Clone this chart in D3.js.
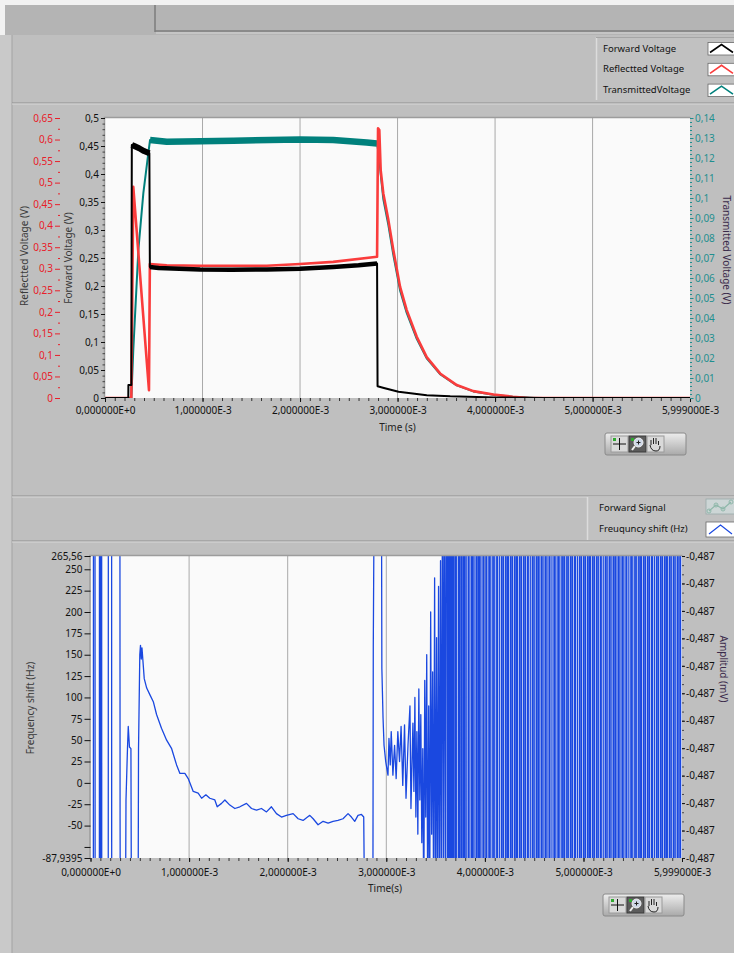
<!DOCTYPE html>
<html>
<head>
<meta charset="utf-8">
<script src="https://cdn.jsdelivr.net/npm/d3@7"></script>
<style>
  body { margin: 0; background: #bfbfbf; }
  svg { display: block; font-family: "Noto Sans", sans-serif; }
</style>
</head>
<body>
<svg id="panel" width="734" height="953"></svg>
<script>
// ---------- data ----------
// time in ms
const timeTicks = [0, 1, 2, 3, 4, 5, 5.999];
const timeTickLabels = ["0,000000E+0", "1,000000E-3", "2,000000E-3", "3,000000E-3",
  "4,000000E-3", "5,000000E-3", "5,999000E-3"];

// [time ms, volts]
const forwardVoltage = [
  [0, 0], [0.239, 0], [0.24, 0.023], [0.27, 0.023], [0.275, 0.452], [0.3, 0.45],
  [0.35, 0.446], [0.4, 0.441], [0.455, 0.437], [0.46, 0.234], [0.55, 0.232],
  [0.975, 0.2295], [1.3, 0.229], [1.66, 0.2295], [2.0, 0.231], [2.34, 0.234],
  [2.6, 0.237], [2.79, 0.240], [2.795, 0.021], [2.86, 0.018], [3.01, 0.011],
  [3.3, 0.005], [3.54, 0.003], [4.0, 0.001], [4.5, 0], [5.999, 0]
];
const reflectedVoltage = [
  [0, 0], [0.27, 0], [0.29, 0.49], [0.451, 0.018], [0.46, 0.311], [0.633, 0.308],
  [0.975, 0.307], [1.66, 0.307], [2.0, 0.311], [2.34, 0.316], [2.79, 0.328],
  [2.80, 0.626], [2.813, 0.622], [2.827, 0.529], [2.854, 0.475], [2.906, 0.413],
  [2.957, 0.343], [3.026, 0.258], [3.094, 0.204], [3.197, 0.142], [3.299, 0.095],
  [3.436, 0.057], [3.607, 0.030], [3.777, 0.016], [3.983, 0.008], [4.18, 0.003],
  [4.35, 0], [5.999, 0]
];
const transmittedVoltage = [
  [0, 0], [0.27, 0], [0.29, 0.0239], [0.342, 0.0739], [0.393, 0.1023], [0.444, 0.1223],
  [0.462, 0.129], [0.633, 0.1281], [1.316, 0.1286], [2.0, 0.1293], [2.34, 0.129],
  [2.684, 0.1278], [2.79, 0.1273], [2.81, 0.121], [2.827, 0.112], [2.854, 0.0995],
  [2.906, 0.0865], [2.957, 0.0715], [3.026, 0.0538], [3.094, 0.0425], [3.197, 0.0296],
  [3.299, 0.0198], [3.436, 0.0119], [3.607, 0.0063], [3.777, 0.0033], [3.983, 0.0016],
  [4.18, 0.0006], [4.4, 0], [5.999, 0]
];

const fwdTicks = [0, 0.05, 0.1, 0.15, 0.2, 0.25, 0.3, 0.35, 0.4, 0.45, 0.5];
const refTicks = [0, 0.05, 0.1, 0.15, 0.2, 0.25, 0.3, 0.35, 0.4, 0.45, 0.5, 0.55, 0.6, 0.65];
const trnTicks = [0, 0.01, 0.02, 0.03, 0.04, 0.05, 0.06, 0.07, 0.08, 0.09, 0.1, 0.11, 0.12, 0.13, 0.14];

// frequency shift (Hz); null breaks the trace
const freqShift = [
  [0, -150], [0.029, -150], [0.030, 400], [0.045, 400], [0.046, 230], [0.047, -150],
  [0.090, -150], [0.091, 400], [0.100, 400], [0.101, -150], [0.106, -150], [0.107, 196],
  [0.108, 400], [0.113, 400], [0.114, -150], [0.180, -150], [0.181, 400], [0.214, 400],
  [0.215, -150], [0.25, null], [0.298, 400], [0.300, -43], [0.302, -150],
  [0.33, null], [0.355, -150], [0.36, -20], [0.375, 40], [0.383, 66], [0.39, 52],
  [0.395, 42], [0.41, 40], [0.415, -150], [0.45, null], [0.483, -150], [0.487, 40],
  [0.50, 150], [0.507, 161], [0.515, 145], [0.522, 158], [0.545, 122], [0.57, 111],
  [0.603, 103], [0.637, 95], [0.67, 80], [0.72, 64], [0.772, 50], [0.823, 40],
  [0.873, 21], [0.907, 11], [0.957, 11], [0.991, 5], [1.042, -10], [1.092, -12],
  [1.127, -18], [1.17, -14], [1.21, -18], [1.261, -20], [1.285, -28], [1.329, -24],
  [1.363, -20], [1.413, -26], [1.464, -30], [1.515, -28], [1.582, -24], [1.633, -30],
  [1.684, -32], [1.734, -30], [1.785, -34], [1.835, -28], [1.886, -36], [1.937, -40],
  [1.987, -38], [2.055, -36], [2.106, -42], [2.156, -44], [2.224, -38], [2.258, -42],
  [2.308, -49], [2.359, -45], [2.41, -47], [2.46, -45], [2.51, -44], [2.561, -42],
  [2.612, -36], [2.646, -40], [2.68, -45], [2.713, -38], [2.748, -37], [2.771, -40],
  [2.78, -150], [2.82, null], [2.864, -150], [2.868, 161], [2.88, 400], [2.89, 400],
  [2.92, null], [2.95, 400], [2.955, 134], [2.967, 76], [2.977, 44], [2.994, 25],
  [3.017, 9], [3.027, 52], [3.04, 21], [3.05, 60], [3.067, 9], [3.084, 44], [3.1, 5],
  [3.117, 60], [3.134, 25], [3.15, 66], [3.167, -3], [3.185, 68], [3.2, -18],
  [3.22, 44], [3.24, 90], [3.25, -30], [3.27, 70], [3.28, -10], [3.29, 100],
  [3.30, -40], [3.31, 60], [3.32, -60], [3.33, 110], [3.34, -20], [3.35, 80],
  [3.36, -70], [3.37, 40], [3.38, -150], [3.39, 120], [3.40, -40], [3.41, 150],
  [3.42, -150], [3.43, 90], [3.44, -150], [3.45, 200], [3.46, -60], [3.47, 130],
  [3.48, -150], [3.49, 240], [3.50, -150], [3.51, 170], [3.52, -150], [3.53, 230],
  [3.54, -150], [3.55, 260], [3.56, -150], [3.57, 400], [3.58, -100], [3.59, 400],
  [3.60, -150], [3.61, 400]
];
// times (ms) of full-height swings in the noisy tail
const freqSpikes = [
  3.62, 3.625, 3.63, 3.64, 3.645, 3.655, 3.66, 3.67, 3.68, 3.685, 3.70, 3.705, 3.71,
  3.73, 3.735, 3.745, 3.76, 3.765, 3.78, 3.79, 3.795, 3.81, 3.83, 3.835, 3.84, 3.86,
  3.87, 3.875, 3.89, 3.91, 3.915, 3.93, 3.94, 3.945, 3.96, 3.98, 3.985, 3.99, 4.01,
  4.02, 4.04, 4.045, 4.06, 4.08, 4.085, 4.10, 4.12, 4.125, 4.13, 4.15, 4.17, 4.175,
  4.19, 4.21, 4.215, 4.23, 4.24, 4.26, 4.265, 4.28, 4.30, 4.305, 4.32, 4.33, 4.35,
  4.355, 4.37, 4.39, 4.395, 4.41, 4.43, 4.435, 4.44, 4.46, 4.48, 4.485, 4.50, 4.52,
  4.525, 4.54, 4.55, 4.57, 4.575, 4.59, 4.61, 4.615, 4.63, 4.65, 4.655, 4.66, 4.68,
  4.70, 4.705, 4.72, 4.74, 4.745, 4.76, 4.78, 4.785, 4.80, 4.81, 4.83, 4.835, 4.85,
  4.87, 4.875, 4.89, 4.91, 4.915, 4.92, 4.94, 4.96, 4.965, 4.98, 5.00, 5.005, 5.02,
  5.04, 5.045, 5.06, 5.07, 5.09, 5.095, 5.11, 5.13, 5.135, 5.15, 5.17, 5.175, 5.18,
  5.20, 5.22, 5.225, 5.24, 5.26, 5.265, 5.28, 5.30, 5.305, 5.32, 5.33, 5.35, 5.355,
  5.37, 5.39, 5.395, 5.41, 5.43, 5.435, 5.44, 5.46, 5.48, 5.485, 5.50, 5.52, 5.525,
  5.54, 5.56, 5.565, 5.58, 5.59, 5.61, 5.615, 5.63, 5.65, 5.655, 5.67, 5.69, 5.695,
  5.70, 5.72, 5.74, 5.745, 5.76, 5.78, 5.785, 5.80, 5.82, 5.825, 5.84, 5.85, 5.87,
  5.875, 5.89, 5.91, 5.915, 5.93, 5.95, 5.955, 5.97, 5.985
];
const freqTicks = [250, 225, 200, 175, 150, 125, 100, 75, 50, 25, 0, -25, -50];
const freqMinor = [-75];
const freqRange = [-87.9395, 265.56];
const freqRangeLabels = ["-87,9395", "265,56"];
const ampLabels = ["-0,487", "-0,487", "-0,487", "-0,487", "-0,487", "-0,487",
  "-0,487", "-0,487", "-0,487", "-0,487", "-0,487", "-0,487"];

const topLegend = ["Forward Voltage", "Reflectted Voltage", "TransmittedVoltage"];
const bottomLegend = ["Forward Signal", "Freuquncy shift (Hz)"];

// ---------- setup ----------
const svg = d3.select("#panel");
const fmt = d3.formatLocale({ decimal: ",", thousands: ".", grouping: [3], currency: ["", ""], minus: "-" }).format(".2~f");

const cBlack = "#000000", cRed = "#fa3c3c", cTeal = "#00807c", cBlue = "#1a48e0";
const cRedText = "#e8202a", cTealText = "#1f8f8f";
const tickFont = 10;

// panel background & chrome
svg.append("rect").attr("width", 734).attr("height", 953).attr("fill", "#bfbfbf");
svg.append("rect").attr("width", 734).attr("height", 35).attr("fill", "#b4b4b4");
svg.append("rect").attr("width", 734).attr("height", 5).attr("fill", "#f2f2f2");
svg.append("rect").attr("width", 5).attr("height", 35).attr("fill", "#f2f2f2");
svg.append("line").attr("x1", 155).attr("x2", 155).attr("y1", 5).attr("y2", 32).attr("stroke", "#7c7c7c").attr("stroke-width", 1.5);
svg.append("line").attr("x1", 155).attr("x2", 734).attr("y1", 31).attr("y2", 31).attr("stroke", "#7c7c7c").attr("stroke-width", 1.5);
svg.append("line").attr("x1", 156).attr("x2", 734).attr("y1", 33).attr("y2", 33).attr("stroke", "#d6d6d6");
svg.append("rect").attr("x", 0).attr("y", 35).attr("width", 12).attr("height", 918).attr("fill", "#c9c9c9");
svg.append("line").attr("x1", 12).attr("x2", 12).attr("y1", 35).attr("y2", 953).attr("stroke", "#a3a3a3");
[103, 496, 541].forEach(y => {
  svg.append("line").attr("x1", 12).attr("x2", 734).attr("y1", y).attr("y2", y).attr("stroke", "#8e8e8e");
  svg.append("line").attr("x1", 12).attr("x2", 734).attr("y1", y + 1).attr("y2", y + 1).attr("stroke", "#d8d8d8");
});

function styleAxis(g, color) {
  g.attr("font-family", null).attr("font-size", tickFont);
  g.select(".domain").remove();
  g.selectAll("line").attr("stroke", color);
  g.selectAll("text").attr("fill", color);
}

function rotTitle(x, y, text, angle, color) {
  svg.append("text").attr("transform", `translate(${x},${y}) rotate(${angle})`)
    .attr("text-anchor", "middle").attr("dominant-baseline", "central")
    .attr("font-size", 10).attr("fill", color).text(text);
}

function palette(x, y) {
  const g = svg.append("g").attr("transform", `translate(${x},${y})`);
  const grad = "pal" + y;
  const lg = svg.append("defs").append("linearGradient").attr("id", grad).attr("x1", 0).attr("x2", 0).attr("y1", 0).attr("y2", 1);
  lg.append("stop").attr("offset", "0%").attr("stop-color", "#ededed");
  lg.append("stop").attr("offset", "100%").attr("stop-color", "#a9a9a9");
  g.append("rect").attr("width", 81).attr("height", 22).attr("rx", 2).attr("fill", `url(#${grad})`).attr("stroke", "#8a8a8a");
  // cursor tool
  g.append("rect").attr("x", 6).attr("y", 3).attr("width", 17).attr("height", 16).attr("fill", "#d9d9d9").attr("stroke", "#9a9a9a");
  g.append("line").attr("x1", 14.5).attr("x2", 14.5).attr("y1", 5).attr("y2", 17).attr("stroke", "#111");
  g.append("line").attr("x1", 8).attr("x2", 21).attr("y1", 11).attr("y2", 11).attr("stroke", "#111");
  g.append("rect").attr("x", 8).attr("y", 5).attr("width", 3).attr("height", 3).attr("fill", "#2faa2f");
  // zoom tool (pressed)
  g.append("rect").attr("x", 24).attr("y", 3).attr("width", 17).attr("height", 16).attr("fill", "#5c5c5c").attr("stroke", "#3a3a3a");
  g.append("circle").attr("cx", 33.5).attr("cy", 9.5).attr("r", 4.5).attr("fill", "#cfd8e8").attr("stroke", "#f0f0f0");
  g.append("line").attr("x1", 30).attr("x2", 27).attr("y1", 13).attr("y2", 17).attr("stroke", "#f0f0f0").attr("stroke-width", 2);
  g.append("path").attr("d", "M31.5,9.5h4M33.5,7.5v4").attr("stroke", "#222");
  g.append("rect").attr("x", 26).attr("y", 5).attr("width", 3).attr("height", 3).attr("fill", "#2faa2f");
  // pan tool
  g.append("rect").attr("x", 42).attr("y", 3).attr("width", 17).attr("height", 16).attr("fill", "#d9d9d9").attr("stroke", "#9a9a9a");
  g.append("path").attr("d", "M46,12 v-5 M48.5,11 v-6 M51,11 v-6 M53.5,12 v-4 M45,12 q1,6 6,6 q4,0 4,-5")
    .attr("fill", "none").attr("stroke", "#222").attr("stroke-width", 1);
}

// ---------- top graph ----------
const T = { left: 105, right: 690, top: 118, bottom: 398 };
const xTop = d3.scaleLinear().domain([0, 5.999]).range([T.left, T.right]);
const yFwd = d3.scaleLinear().domain([0, 0.5]).range([T.bottom, T.top]);
const yRef = d3.scaleLinear().domain([0, 0.65]).range([T.bottom, T.top]);
const yTrn = d3.scaleLinear().domain([0, 0.14]).range([T.bottom, T.top]);

svg.append("rect").attr("x", T.left).attr("y", T.top).attr("width", T.right - T.left).attr("height", T.bottom - T.top)
  .attr("fill", "#fafafa");
svg.append("clipPath").attr("id", "clipTop").append("rect")
  .attr("x", T.left).attr("y", T.top).attr("width", T.right - T.left).attr("height", T.bottom - T.top);

// vertical grid
svg.append("g").selectAll("line").data(timeTicks.slice(1, 6)).enter().append("line")
  .attr("x1", d => xTop(d)).attr("x2", d => xTop(d)).attr("y1", T.top).attr("y2", T.bottom)
  .attr("stroke", "#a9a9a9");

const lineTop = y => d3.line().x(d => xTop(d[0])).y(d => y(d[1]));
const between = (data, a, b) => data.filter(d => d[0] >= a && d[0] <= b);
const plotsTop = svg.append("g").attr("clip-path", "url(#clipTop)");

plotsTop.append("path").attr("d", lineTop(yTrn)(transmittedVoltage)).attr("fill", "none")
  .attr("stroke", cTeal).attr("stroke-width", 2).attr("stroke-linejoin", "round");
plotsTop.append("path").attr("d", lineTop(yTrn)(between(transmittedVoltage, 0.46, 2.79))).attr("fill", "none")
  .attr("stroke", cTeal).attr("stroke-width", 6.5).attr("stroke-linejoin", "round");
plotsTop.append("path").attr("d", lineTop(yRef)(reflectedVoltage)).attr("fill", "none")
  .attr("stroke", cRed).attr("stroke-width", 2.6).attr("stroke-linejoin", "round");
plotsTop.append("path").attr("d", lineTop(yFwd)(forwardVoltage)).attr("fill", "none")
  .attr("stroke", cBlack).attr("stroke-width", 2).attr("stroke-linejoin", "round");
plotsTop.append("path").attr("d", lineTop(yFwd)(between(forwardVoltage, 0.275, 0.455))).attr("fill", "none")
  .attr("stroke", cBlack).attr("stroke-width", 6).attr("stroke-linejoin", "round");
plotsTop.append("path").attr("d", lineTop(yFwd)(between(forwardVoltage, 0.46, 2.79))).attr("fill", "none")
  .attr("stroke", cBlack).attr("stroke-width", 4.5).attr("stroke-linejoin", "round");

svg.append("path").attr("d", `M${T.left - 0.5},${T.bottom}V${T.top - 0.5}H${T.right + 0.5}`)
  .attr("fill", "none").attr("stroke", "#9c9c9c").attr("stroke-width", 1.5);

// x axis
const gxTop = svg.append("g").attr("transform", `translate(0,${T.bottom})`)
  .call(d3.axisBottom(xTop).tickValues(d3.range(0, 6, 0.1)).tickSize(3).tickFormat(""));
styleAxis(gxTop, "#333");
const gxTop2 = svg.append("g").attr("transform", `translate(0,${T.bottom})`)
  .call(d3.axisBottom(xTop).tickValues(timeTicks).tickSize(4).tickPadding(5).tickFormat((d, i) => timeTickLabels[i]));
styleAxis(gxTop2, "#111");

// forward voltage axis
const gFwdMin = svg.append("g").attr("transform", `translate(${T.left},0)`)
  .call(d3.axisLeft(yFwd).tickValues(d3.range(0, 0.501, 0.01)).tickSize(2.5).tickFormat(""));
styleAxis(gFwdMin, "#444");
const gFwd = svg.append("g").attr("transform", `translate(${T.left},0)`)
  .call(d3.axisLeft(yFwd).tickValues(fwdTicks).tickSize(4).tickPadding(2).tickFormat(fmt));
styleAxis(gFwd, "#111");

// reflected voltage axis
const gRefMin = svg.append("g").attr("transform", "translate(60,0)")
  .call(d3.axisLeft(yRef).tickValues(d3.range(0.025, 0.65, 0.05)).tickSize(2).tickFormat(""));
styleAxis(gRefMin, cRedText);
const gRef = svg.append("g").attr("transform", "translate(60,0)")
  .call(d3.axisLeft(yRef).tickValues(refTicks).tickSize(5).tickPadding(2).tickFormat(fmt));
styleAxis(gRef, cRedText);

// transmitted voltage axis
const gTrnMin = svg.append("g").attr("transform", `translate(${T.right},0)`)
  .call(d3.axisRight(yTrn).tickValues(d3.range(0, 0.1401, 0.002)).tickSize(2).tickFormat(""));
styleAxis(gTrnMin, cTealText);
const gTrn = svg.append("g").attr("transform", `translate(${T.right},0)`)
  .call(d3.axisRight(yTrn).tickValues(trnTicks).tickSize(3.5).tickPadding(1.5).tickFormat(fmt));
styleAxis(gTrn, cTealText);

rotTitle(24, 256, "Reflectted Voltage (V)", -90, "#3a3a3a");
rotTitle(68, 258, "Forward Voltage (V)", -90, "#3a3a3a");
rotTitle(727, 250, "Transmitted Voltage (V)", 90, "#3a2a4a");
svg.append("text").attr("x", (T.left + T.right) / 2).attr("y", 427).attr("text-anchor", "middle")
  .attr("dominant-baseline", "central").attr("font-size", 10).attr("fill", "#222").text("Time (s)");
palette(605, 433);

// top legend
const legT = svg.append("g");
legT.append("rect").attr("x", 596).attr("y", 37).attr("width", 140).attr("height", 63).attr("fill", "#c1c1c1");
legT.append("line").attr("x1", 596.5).attr("x2", 596.5).attr("y1", 37).attr("y2", 100).attr("stroke", "#dcdcdc").attr("stroke-width", 1.5);
legT.append("line").attr("x1", 596).attr("x2", 734).attr("y1", 37.5).attr("y2", 37.5).attr("stroke", "#a5a5a5");
const topColors = [cBlack, cRed, cTeal];
topLegend.forEach((name, i) => {
  const cy = 48 + i * 20.8;
  legT.append("text").attr("x", 603).attr("y", cy).attr("dominant-baseline", "central")
    .attr("font-size", 9.5).attr("fill", "#111").text(name);
  legT.append("rect").attr("x", 708).attr("y", cy - 5.5).attr("width", 30).attr("height", 12.5)
    .attr("fill", "#ffffff").attr("stroke", "#6a6a6a").attr("stroke-width", 0.8);
  legT.append("path").attr("d", `M710,${cy + 4.5}L721.5,${cy - 3.5}L733,${cy + 4.5}`)
    .attr("fill", "none").attr("stroke", topColors[i]).attr("stroke-width", 1.6);
});

// ---------- bottom graph ----------
const B = { left: 90.5, right: 682, top: 556, bottom: 858 };
const xBot = d3.scaleLinear().domain([0, 5.999]).range([B.left, B.right]);
const yFreq = d3.scaleLinear().domain(freqRange).range([B.bottom, B.top]);
const yAmp = d3.scaleLinear().domain([0, ampLabels.length - 1]).range([B.bottom, B.top]);

svg.append("rect").attr("x", B.left).attr("y", B.top).attr("width", B.right - B.left).attr("height", B.bottom - B.top)
  .attr("fill", "#fafafa");
svg.append("clipPath").attr("id", "clipBot").append("rect")
  .attr("x", B.left).attr("y", B.top).attr("width", B.right - B.left).attr("height", B.bottom - B.top);

svg.append("g").selectAll("line").data(timeTicks.slice(1, 6)).enter().append("line")
  .attr("x1", d => xBot(d)).attr("x2", d => xBot(d)).attr("y1", B.top).attr("y2", B.bottom)
  .attr("stroke", "#a9a9a9");

// spikes become vertical swings between values beyond the axis range
const spikePts = [];
freqSpikes.forEach((t, i) => {
  const pair = i % 2 === 0 ? [400, -150] : [-150, 400];
  spikePts.push([t, pair[0]], [t, pair[1]]);
});
const freqLine = d3.line().defined(d => d[1] !== null).x(d => xBot(d[0])).y(d => yFreq(d[1]));
svg.append("g").attr("clip-path", "url(#clipBot)").append("path")
  .attr("d", freqLine(freqShift.concat(spikePts)))
  .attr("fill", "none").attr("stroke", cBlue).attr("stroke-width", 1.3).attr("stroke-linejoin", "round");

svg.append("path").attr("d", `M${B.left - 0.5},${B.bottom}V${B.top - 0.5}H${B.right + 0.5}`)
  .attr("fill", "none").attr("stroke", "#9c9c9c").attr("stroke-width", 1.5);

const gxBot = svg.append("g").attr("transform", `translate(0,${B.bottom})`)
  .call(d3.axisBottom(xBot).tickValues(d3.range(0, 6, 0.1)).tickSize(3).tickFormat(""));
styleAxis(gxBot, "#333");
const gxBot2 = svg.append("g").attr("transform", `translate(0,${B.bottom})`)
  .call(d3.axisBottom(xBot).tickValues(timeTicks).tickSize(4).tickPadding(7).tickFormat((d, i) => timeTickLabels[i]));
styleAxis(gxBot2, "#111");

const gFreq = svg.append("g").attr("transform", `translate(${B.left},0)`)
  .call(d3.axisLeft(yFreq).tickValues(freqTicks.concat(freqMinor)).tickSize(6).tickPadding(2)
    .tickFormat(d => freqMinor.includes(d) ? "" : fmt(d)));
styleAxis(gFreq, "#111");
const gFreqEnds = svg.append("g").attr("transform", `translate(${B.left},0)`)
  .call(d3.axisLeft(yFreq).tickValues(freqRange).tickSize(6).tickPadding(2)
    .tickFormat((d, i) => freqRangeLabels[i]));
styleAxis(gFreqEnds, "#111");

const gAmpMin = svg.append("g").attr("transform", `translate(${B.right},0)`)
  .call(d3.axisRight(yAmp).tickValues(d3.range(0, ampLabels.length - 0.99, 1 / 3)).tickSize(2).tickFormat(""));
styleAxis(gAmpMin, "#444");
const gAmp = svg.append("g").attr("transform", `translate(${B.right},0)`)
  .call(d3.axisRight(yAmp).tickValues(d3.range(ampLabels.length)).tickSize(3).tickPadding(1)
    .tickFormat((d, i) => ampLabels[ampLabels.length - 1 - i]));
styleAxis(gAmp, "#111");

rotTitle(30, 708, "Frequency shift (Hz)", -90, "#3a3a3a");
rotTitle(724, 669, "Amplitud (mV)", 90, "#3a2a4a");
svg.append("text").attr("x", 385).attr("y", 888).attr("text-anchor", "middle")
  .attr("dominant-baseline", "central").attr("font-size", 10).attr("fill", "#222").text("Time(s)");
palette(603, 894);

// bottom legend
const legB = svg.append("g");
legB.append("rect").attr("x", 587).attr("y", 497).attr("width", 150).attr("height", 43).attr("fill", "#c1c1c1");
legB.append("line").attr("x1", 587.5).attr("x2", 587.5).attr("y1", 497).attr("y2", 540).attr("stroke", "#dcdcdc").attr("stroke-width", 1.5);
bottomLegend.forEach((name, i) => {
  const cy = 507 + i * 21;
  legB.append("text").attr("x", 599).attr("y", cy).attr("dominant-baseline", "central")
    .attr("font-size", 9.5).attr("fill", "#111").text(name);
});
legB.append("rect").attr("x", 706).attr("y", 499).attr("width", 30).attr("height", 15)
  .attr("fill", "#cdd6d6").attr("stroke", "#9aa").attr("stroke-width", 0.8);
legB.append("path").attr("d", "M709,511 L716,505 L723,509 L731,502").attr("fill", "none")
  .attr("stroke", "#8fb8aa").attr("stroke-width", 1.2);
[[709, 511], [716, 505], [723, 509], [731, 502]].forEach(p =>
  legB.append("circle").attr("cx", p[0]).attr("cy", p[1]).attr("r", 2).attr("fill", "none").attr("stroke", "#8fb8aa"));
legB.append("rect").attr("x", 706).attr("y", 522).attr("width", 30).attr("height", 15)
  .attr("fill", "#ffffff").attr("stroke", "#6a6a6a").attr("stroke-width", 0.8);
legB.append("path").attr("d", "M709,534 L720.5,525 L732,534").attr("fill", "none")
  .attr("stroke", cBlue).attr("stroke-width", 1.2);
</script>
</body>
</html>
